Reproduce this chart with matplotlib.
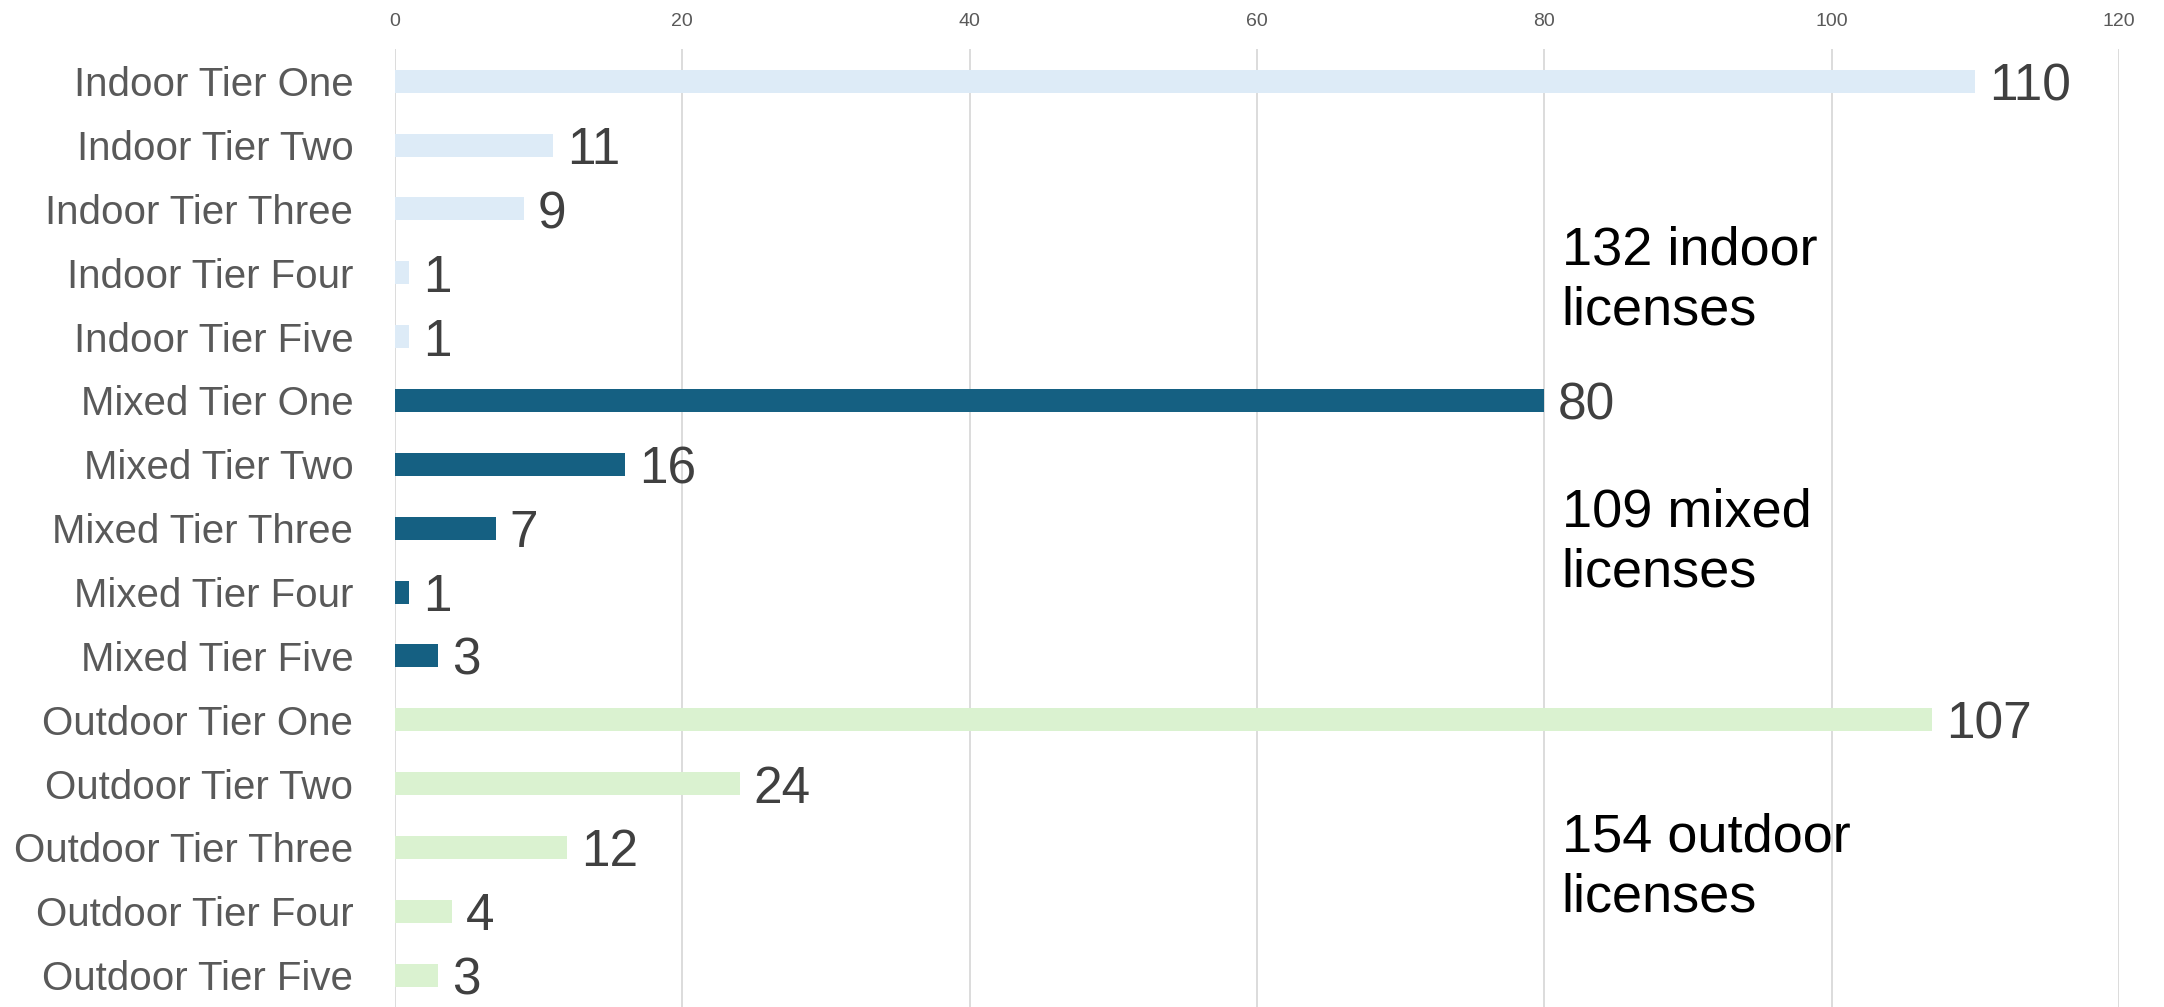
import matplotlib.pyplot as plt

# datos
categorias = ["Indoor Tier One", "Indoor Tier Two", "Indoor Tier Three", "Indoor Tier Four", "Indoor Tier Five",
              "Mixed Tier One", "Mixed Tier Two", "Mixed Tier Three", "Mixed Tier Four", "Mixed Tier Five",
              "Outdoor Tier One", "Outdoor Tier Two", "Outdoor Tier Three", "Outdoor Tier Four", "Outdoor Tier Five"]
valores = [110, 11, 9, 1, 1,
           80, 16, 7, 1, 3,
           107, 24, 12, 4, 3]
grupos = ["indoor"] * 5 + ["mixed"] * 5 + ["outdoor"] * 5
colores = {"indoor": "#DDEBF7", "mixed": "#156082", "outdoor": "#DAF2D0"}
notas = ["132 indoor\nlicenses", "109 mixed\nlicenses", "154 outdoor\nlicenses"]
notas_y = [3.12, 7.22, 12.32]
xticks = [0, 20, 40, 60, 80, 100, 120]

plt.rcParams['font.family'] = ['Liberation Sans', 'DejaVu Sans']

fig = plt.figure(figsize=(21.64, 10.07), dpi=100)
ax = fig.add_axes([0.1825, 0.0, 0.9792 - 0.1825, 0.951])

y = list(range(len(categorias)))
ax.barh(y, valores, height=0.36, color=[colores[g] for g in grupos], zorder=3)

# etiquetas de valores
for yi, v in zip(y, valores):
    ax.annotate(str(v), (v, yi), xytext=(10, -4), textcoords='offset points',
                va='center', ha='left', fontsize=37, color='#404040')

# notas de totales
for t, yy in zip(notas, notas_y):
    ax.text(81.2, yy, t, fontsize=39, color='black', va='center', ha='left', linespacing=1.25)

ax.set_xlim(0, 120)
ax.set_ylim(14.5, -0.5)
ax.set_xticks(xticks)
ax.set_yticks(y)
ax.set_yticklabels(categorias)
ax.xaxis.tick_top()
ax.tick_params(axis='x', length=0, pad=14, labelsize=14, labelcolor='#595959')
ax.tick_params(axis='y', length=0, pad=30, labelsize=29, labelcolor='#595959')
ax.grid(axis='x', color='#D9D9D9', linewidth=1.3, zorder=0)
for s in ax.spines.values():
    s.set_visible(False)

plt.savefig('out.png', dpi=100)
